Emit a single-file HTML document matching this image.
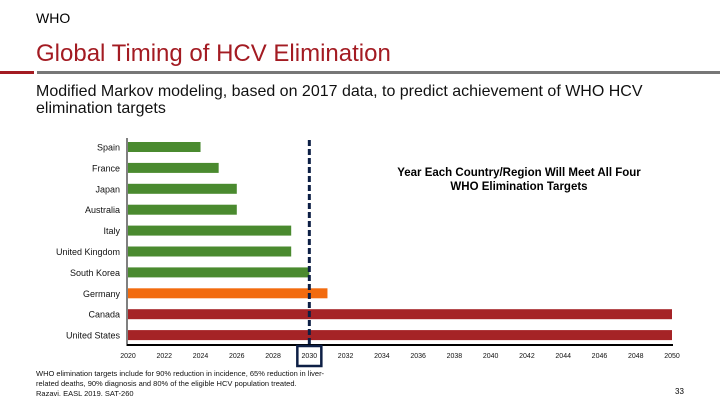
<!DOCTYPE html>
<html><head><meta charset="utf-8"><style>
body{margin:0;width:720px;height:405px;background:#fff;font-family:"Liberation Sans",sans-serif;overflow:hidden;position:relative}
.t{position:absolute;white-space:nowrap}
</style></head><body>
<div class="t" style="left:36px;top:10px;font-size:14px;color:#000">WHO</div>
<div class="t" style="left:36px;top:40px;font-size:24px;color:#a31b22">Global Timing of HCV Elimination</div>
<div style="position:absolute;left:0;top:71px;width:34px;height:3px;background:#a31b22"></div>
<div style="position:absolute;left:37px;top:71px;width:683px;height:3px;background:#777"></div>
<div class="t" style="left:36px;top:83px;font-size:16px;line-height:17px;color:#111">Modified Markov modeling, based on 2017 data, to predict achievement of WHO HCV<br>elimination targets</div>
<svg id="chart" width="720" height="405" style="position:absolute;left:0;top:0"></svg>
<div class="t" style="left:380px;top:166px;width:278px;text-align:center;font-size:11.5px;font-weight:bold;line-height:14px">Year Each Country/Region Will Meet All Four<br>WHO Elimination Targets</div>
<div class="t" style="left:36px;top:369px;font-size:7.5px;line-height:10px;color:#111">WHO elimination targets include for 90% reduction in incidence, 65% reduction in liver-<br>related deaths, 90% diagnosis and 80% of the eligible HCV population treated.<br>Razavi. EASL 2019. SAT-260</div>
<div class="t" style="left:675px;top:387px;font-size:8px">33</div>
<script>
const countries=["Spain","France","Japan","Australia","Italy","United Kingdom","South Korea","Germany","Canada","United States"];
const years=[2024,2025,2026,2026,2029,2029,2030,2031,2050,2050];
const colors=["#4a8a2f","#4a8a2f","#4a8a2f","#4a8a2f","#4a8a2f","#4a8a2f","#4a8a2f","#f26b0f","#a52326","#a52326"];
const ticks=[2020,2022,2024,2026,2028,2030,2032,2034,2036,2038,2040,2042,2044,2046,2048,2050];
const target=2030;
const svg=document.getElementById('chart');const NS='http://www.w3.org/2000/svg';
const x=v=>128+(v-2020)*(544/30);
const y=i=>147+i*20.9;
function mk(t,a){const e=document.createElementNS(NS,t);for(const k in a)e.setAttribute(k,a[k]);svg.appendChild(e);return e;}
countries.forEach((c,i)=>{
 const r=mk('rect',{x:x(2020),y:y(i)-5,width:x(years[i])-x(2020),height:10,fill:colors[i]});
 
 
 const t=mk('text',{x:120,y:y(i)+3.5,'text-anchor':'end','font-size':9,fill:'#111','font-family':'Liberation Sans'});
 t.textContent=c;
 
 
});
const ya=mk('line',{x1:127,y1:138,x2:127,y2:346,stroke:'#000','stroke-width':1});


const xa=mk('line',{x1:127,y1:345,x2:673,y2:345,stroke:'#000','stroke-width':2});


ticks.forEach(v=>{const t=mk('text',{x:x(v),y:358,'text-anchor':'middle','font-size':7,fill:'#111','font-family':'Liberation Sans'});t.textContent=v;

});
const dl=mk('line',{x1:x(target),y1:140,x2:x(target),y2:345,stroke:'#0d1f45','stroke-width':3,'stroke-dasharray':'6,3'});


const bx=mk('rect',{x:x(target)-12,y:346,width:24,height:20,fill:'none',stroke:'#0d1f45','stroke-width':2.5});


</script>
</body></html>
